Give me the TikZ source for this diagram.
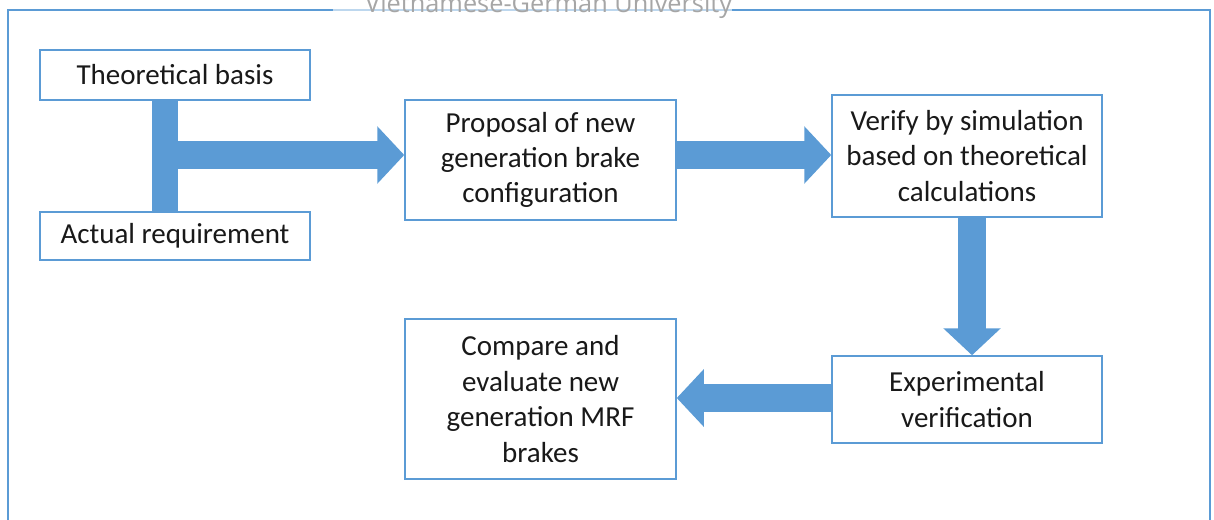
\documentclass[tikz,border=0pt]{standalone}
\usepackage{fontspec}
\setmainfont{Carlito}
\newfontfamily\wmfont{Open Sans}
\usetikzlibrary{arrows.meta,calc}
\definecolor{boxblue}{HTML}{5B9BD5}
\definecolor{arrblue}{HTML}{5B9BD5}
\definecolor{wmgray}{HTML}{A6A6A6}
\tikzset{
  box/.style={draw=boxblue, line width=1.5pt, fill=white, inner sep=0pt, align=center,
    font=\fontsize{29}{35.4}\selectfont, text=black!90},
  blockarrow/.style={draw=arrblue, line width=28pt,
    -{Triangle[width=56pt,length=27pt]}},
  bar/.style={draw=arrblue, line width=26pt}
}
\begin{document}
\begin{tikzpicture}[x=1pt,y=-1pt]
\useasboundingbox (0,0) rectangle (1214,519);
\clip (0,0) rectangle (1214,519);
% outer frame
\draw[boxblue, line width=2pt] (8,540) -- (8,10) -- (1210,10) -- (1210,540);
\fill[white, opacity=0.6] (333,7) rectangle (732,13);
\node[anchor=base west, inner sep=0pt, text=wmgray] (wm) at (365,12.5)
  {\resizebox{367pt}{!}{\wmfont\fontsize{24}{28}\selectfont Vietnamese-German University}};
% boxes
\node[box, minimum width=270pt, minimum height=50pt] (tb) at (175,75) {Theoretical basis};
\node[box, minimum width=270pt, minimum height=48pt] (ar) at (175,236) {Actual requirement};
\node[box, minimum width=271pt, minimum height=120pt] (prop) at (540.5,160)
  {Proposal of new\\generation brake\\configuration};
\node[box, minimum width=270pt, minimum height=122pt] (ver) at (967,156)
  {Verify by simulation\\based on theoretical\\calculations};
\node[box, minimum width=270pt, minimum height=87pt] (exp) at (967,399.5)
  {Experimental\\verification};
\node[box, minimum width=271pt, minimum height=160pt] (comp) at (540.5,399)
  {Compare and\\evaluate new\\generation MRF\\brakes};
% connectors
\coordinate (bartop) at ($(tb.south)+(-10,0)$);
\coordinate (barbot) at (bartop |- ar.north);
\draw[bar] (bartop) -- (barbot);
\coordinate (barR) at (178,155);
\draw[blockarrow] (barR) -- (barR -| prop.west);
\draw[blockarrow] (prop.east |- barR) -- (barR -| ver.west);
\coordinate (dtop) at ($(ver.south)+(5,0)$);
\draw[blockarrow] (dtop) -- (dtop |- exp.north);
\coordinate (lstart) at ($(exp.west)+(0,-1.5)$);
\draw[blockarrow] (lstart) -- (lstart -| comp.east);
\end{tikzpicture}
\end{document}
